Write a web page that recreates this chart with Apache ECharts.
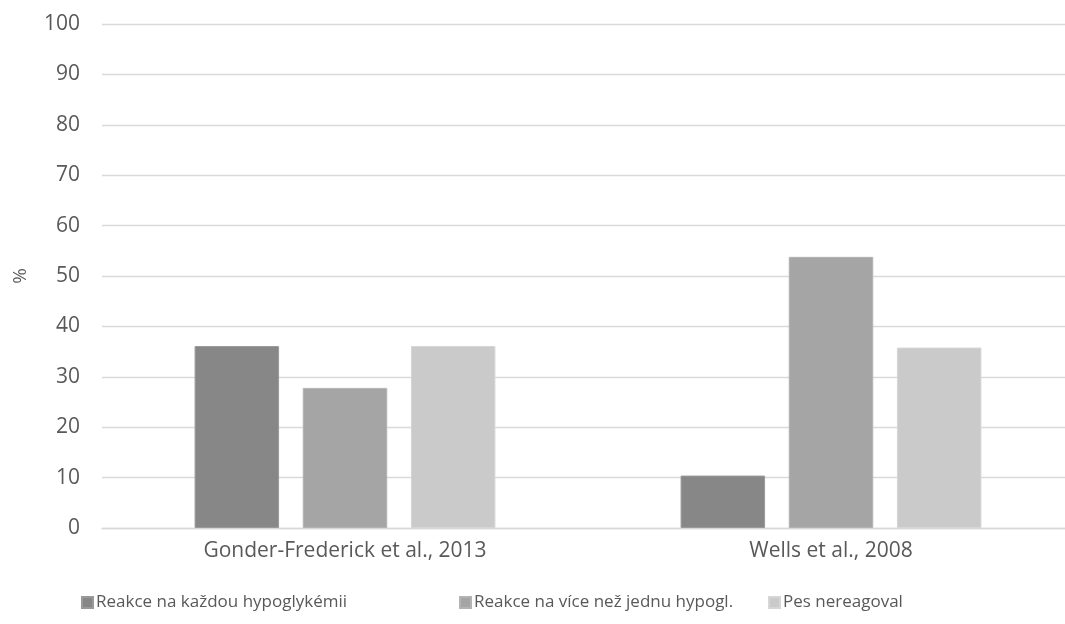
<!DOCTYPE html>
<html>
<head>
<meta charset="utf-8">
<script src="https://cdn.jsdelivr.net/npm/echarts@6/dist/echarts.min.js"></script>
<style>
  html, body { margin: 0; padding: 0; background: #fff; }
  #chart { width: 1065px; height: 624px; }
</style>
</head>
<body>
<div id="chart"></div>
<script>
// Studies compared on the x axis
const categories = ['Gonder-Frederick et al., 2013', 'Wells et al., 2008'];

// Share of hypoglycaemic episodes by dog response, in %
const seriesNames = [
  'Reakce na každou hypoglykémii',
  'Reakce na více než jednu hypogl.',
  'Pes nereagoval'
];
const everyEpisode = [36.1, 10.4];
const moreThanOne = [27.8, 53.8];
const noReaction = [36.1, 35.8];

// Value axis scale
const yMin = 0;
const yMax = 100;
const yStep = 10;

const fills = ['#878787', '#a5a5a5', '#cacaca'];
const edges = ['#9a9a9a', '#b3b3b3', '#d6d6d6'];
const font = '"Open Sans", "Noto Sans", sans-serif';
const textColor = '#595959';

const chart = echarts.init(document.getElementById('chart'), null, { renderer: 'canvas' });

const values = [everyEpisode, moreThanOne, noReaction];

function legendAt(left, name) {
  return {
    data: [name],
    left: left,
    top: 589,
    itemWidth: 11,
    itemHeight: 11,
    icon: 'rect',
    itemGap: 0,
    textStyle: { fontFamily: font, fontSize: 17, color: textColor, padding: [0, 0, 0, -2] }
  };
}

chart.setOption({
  animation: false,
  backgroundColor: '#ffffff',
  textStyle: { fontFamily: font },
  legend: [
    legendAt(76, seriesNames[0]),
    legendAt(454, seriesNames[1]),
    legendAt(763, seriesNames[2])
  ],
  // the plot runs a little past the right edge of the canvas
  grid: { left: 102, top: 24, width: 972, height: 504, containLabel: false, outerBoundsMode: 'none' },
  xAxis: {
    type: 'category',
    data: categories,
    axisLine: { show: true, lineStyle: { color: '#d9d9d9', width: 1.3 } },
    axisTick: { show: false },
    axisLabel: { fontFamily: font, fontSize: 21, color: textColor, margin: 13 }
  },
  yAxis: {
    type: 'value',
    min: yMin,
    max: yMax,
    interval: yStep,
    name: '%',
    nameLocation: 'middle',
    nameRotate: 90,
    nameGap: 72,
    nameTextStyle: { fontFamily: font, fontSize: 19, color: textColor },
    axisLine: { show: false },
    axisTick: { show: false },
    axisLabel: { fontFamily: font, fontSize: 21, color: textColor, margin: 22 },
    splitLine: { lineStyle: { color: '#d9d9d9', width: 1.3 } }
  },
  series: seriesNames.map((name, i) => ({
    name: name,
    type: 'bar',
    data: values[i],
    barWidth: 84.5,
    barGap: '28%',
    itemStyle: { color: fills[i], borderColor: edges[i], borderWidth: 1 }
  }))
});
</script>
</body>
</html>
